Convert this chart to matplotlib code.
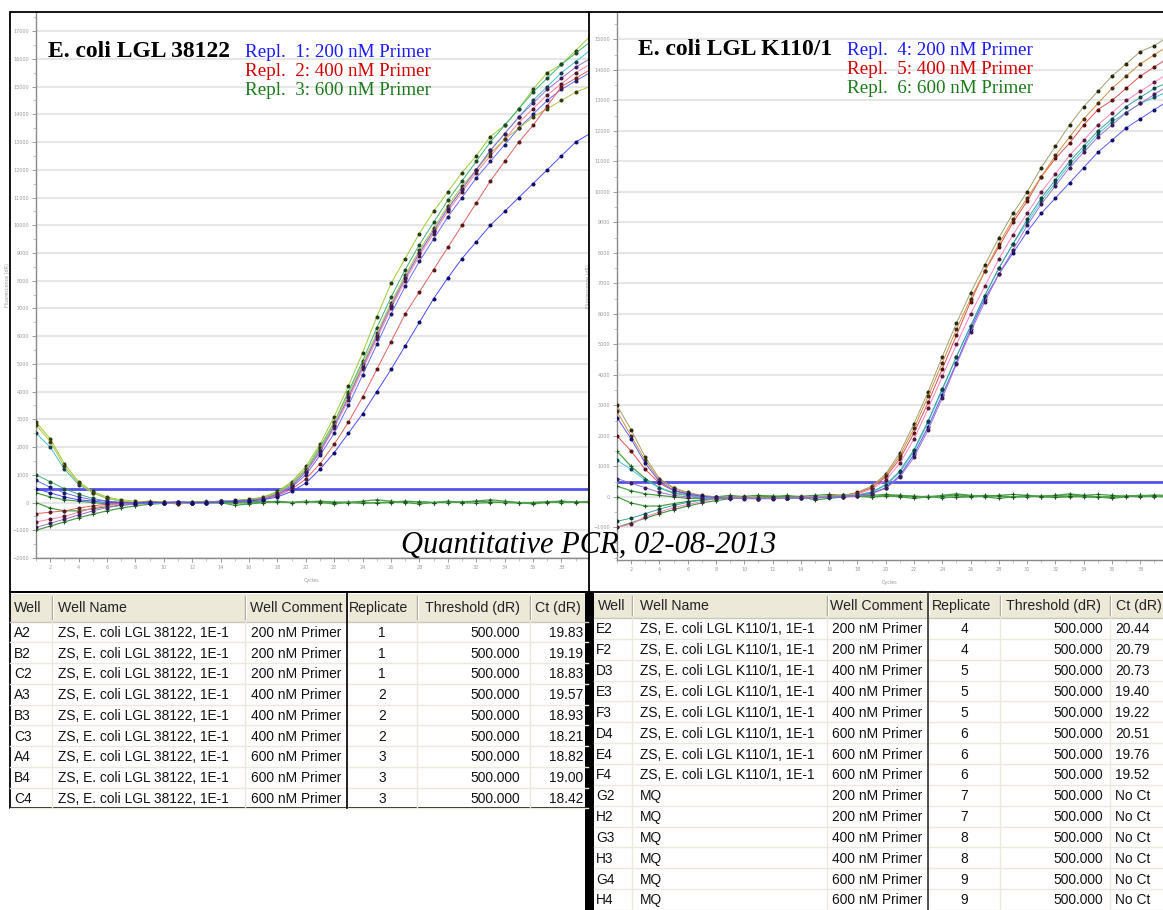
import numpy as np
import matplotlib.pyplot as plt
from matplotlib.patches import Rectangle
from matplotlib.ticker import MultipleLocator, FixedLocator

W, H = 1163, 910
cycles = np.arange(1, 41)

# Amplification curves, fluorescence dR in thousands, cycles 1..40
# E. coli LGL 38122 (left panel)
left_curves = [
    [2.9, 2.3, 1.4, 0.75, 0.4, 0.2, 0.1, 0.05, 0.0, 0.02, -0.05, 0.0, 0.03, 0.05, 0.08, 0.12,
     0.2, 0.4, 0.75, 1.3, 2.1, 3.1, 4.2, 5.4, 6.7, 7.9, 8.8, 9.7, 10.5, 11.2, 11.9, 12.5,
     13.2, 13.6, 14.2, 14.9, 15.5, 15.8, 16.3, 16.8],
    [1.0, 0.75, 0.5, 0.3, 0.15, 0.05, 0.0, -0.03, 0.0, 0.02, -0.02, 0.0, 0.02, 0.05, 0.07, 0.1,
     0.18, 0.35, 0.7, 1.2, 2.0, 2.9, 4.0, 5.1, 6.3, 7.4, 8.4, 9.3, 10.1, 10.9, 11.6, 12.3,
     13.0, 13.6, 14.2, 14.8, 15.3, 15.8, 16.2, 16.6],
    [2.5, 2.0, 1.2, 0.65, 0.35, 0.15, 0.05, 0.0, -0.02, 0.0, 0.0, 0.02, 0.0, 0.05, 0.06, 0.1,
     0.15, 0.32, 0.65, 1.15, 1.9, 2.8, 3.8, 4.9, 6.0, 7.1, 8.1, 9.0, 9.8, 10.6, 11.3, 12.0,
     12.7, 13.3, 13.9, 14.5, 15.0, 15.5, 15.9, 16.3],
    [-0.7, -0.6, -0.5, -0.35, -0.2, -0.1, -0.05, 0.0, 0.0, 0.02, 0.0, -0.02, 0.0, 0.03, 0.05, 0.08,
     0.14, 0.3, 0.6, 1.1, 1.8, 2.7, 3.7, 4.8, 5.9, 7.0, 8.0, 8.9, 9.7, 10.5, 11.2, 11.9,
     12.5, 13.1, 13.7, 14.2, 14.7, 15.1, 15.5, 15.8],
    [0.8, 0.55, 0.35, 0.2, 0.1, 0.05, 0.0, 0.0, -0.03, 0.0, 0.02, 0.0, 0.0, 0.04, 0.06, 0.08,
     0.13, 0.28, 0.55, 1.0, 1.7, 2.5, 3.5, 4.6, 5.7, 6.8, 7.8, 8.7, 9.5, 10.3, 11.0, 11.7,
     12.3, 12.9, 13.5, 14.0, 14.5, 14.9, 15.2, 15.5],
    [2.8, 2.2, 1.3, 0.7, 0.35, 0.15, 0.05, 0.0, 0.0, -0.02, 0.0, 0.0, 0.02, 0.04, 0.07, 0.1,
     0.17, 0.35, 0.68, 1.2, 1.95, 2.9, 3.9, 5.0, 6.1, 7.2, 8.2, 9.1, 9.9, 10.7, 11.4, 12.0,
     12.6, 13.1, 13.5, 13.9, 14.2, 14.5, 14.8, 15.0],
    [-0.4, -0.35, -0.3, -0.2, -0.12, -0.06, -0.02, 0.0, 0.02, 0.0, -0.02, 0.0, 0.02, 0.03, 0.05, 0.07,
     0.12, 0.25, 0.48, 0.85, 1.4, 2.1, 2.9, 3.8, 4.8, 5.8, 6.8, 7.6, 8.4, 9.2, 10.0, 10.8,
     11.6, 12.3, 13.0, 13.6, 14.3, 15.0, 15.3, 15.6],
    [-0.9, -0.75, -0.6, -0.45, -0.3, -0.18, -0.1, -0.05, 0.0, 0.0, 0.02, 0.0, 0.02, 0.03, 0.05, 0.08,
     0.14, 0.3, 0.6, 1.1, 1.85, 2.75, 3.8, 4.9, 6.0, 7.1, 8.1, 9.0, 9.8, 10.6, 11.3, 12.0,
     12.7, 13.3, 13.9, 14.4, 14.9, 15.3, 15.7, 16.0],
    [0.5, 0.35, 0.2, 0.1, 0.05, 0.0, 0.0, -0.02, 0.0, 0.0, 0.02, 0.0, 0.0, 0.02, 0.04, 0.06,
     0.1, 0.2, 0.4, 0.7, 1.2, 1.8, 2.5, 3.2, 4.0, 4.8, 5.65, 6.5, 7.35, 8.1, 8.8, 9.4,
     10.0, 10.5, 11.0, 11.5, 12.0, 12.5, 13.0, 13.3],
]
left_colors = ['#9acd32', '#3cb371', '#40c0d0', '#ff80a0', '#6a6aff', '#b8c040', '#e06060', '#a070d0', '#4a4aff']
left_marks = ['#2a3a10', '#1a4a2a', '#1a3a4a', '#4a1a2a', '#1a1a6a', '#3a3a10', '#5a1a1a', '#3a1a5a', '#10106a']

# E. coli LGL K110/1 (right panel)
right_curves = [
    [3.0, 2.2, 1.3, 0.6, 0.3, 0.15, 0.05, 0.0, -0.02, 0.0, -0.03, -0.05, -0.03, 0.0, 0.0, 0.02,
     0.05, 0.15, 0.35, 0.75, 1.45, 2.4, 3.45, 4.6, 5.7, 6.7, 7.6, 8.5, 9.3, 10.0, 10.8, 11.5,
     12.2, 12.8, 13.3, 13.8, 14.2, 14.6, 14.8, 15.1],
    [2.0, 1.5, 0.9, 0.45, 0.2, 0.08, 0.0, -0.03, -0.05, -0.03, -0.05, -0.05, -0.02, 0.0, 0.0, 0.02,
     0.04, 0.12, 0.3, 0.65, 1.25, 2.1, 3.1, 4.2, 5.3, 6.4, 7.4, 8.2, 9.0, 9.7, 10.5, 11.1,
     11.6, 12.2, 12.7, 13.0, 13.4, 13.8, 14.1, 14.4],
    [2.8, 2.0, 1.2, 0.55, 0.28, 0.12, 0.04, 0.0, -0.02, -0.02, -0.04, -0.05, -0.03, -0.02, 0.0, 0.02,
     0.04, 0.13, 0.32, 0.7, 1.35, 2.25, 3.3, 4.4, 5.5, 6.5, 7.4, 8.3, 9.1, 9.8, 10.5, 11.2,
     11.8, 12.4, 12.9, 13.4, 13.8, 14.2, 14.5, 14.8],
    [-1.0, -0.9, -0.65, -0.5, -0.35, -0.25, -0.15, -0.05, 0.0, -0.02, -0.04, -0.05, -0.03, -0.02, 0.0, 0.01,
     0.03, 0.1, 0.25, 0.55, 1.1, 1.9, 2.9, 3.95, 5.0, 6.0, 6.9, 7.8, 8.6, 9.3, 10.0, 10.6,
     11.2, 11.7, 12.2, 12.6, 13.0, 13.3, 13.6, 13.9],
    [1.2, 0.9, 0.55, 0.3, 0.15, 0.05, 0.0, -0.03, -0.05, -0.05, -0.06, -0.05, -0.04, -0.02, -0.02, 0.0,
     0.02, 0.06, 0.15, 0.38, 0.8, 1.5, 2.45, 3.5, 4.6, 5.6, 6.6, 7.5, 8.3, 9.0, 9.7, 10.3,
     10.9, 11.4, 11.9, 12.3, 12.6, 12.9, 13.1, 13.3],
    [2.6, 1.9, 1.1, 0.5, 0.22, 0.1, 0.02, -0.02, -0.05, -0.05, -0.06, -0.06, -0.05, -0.04, -0.03, -0.02,
     0.0, 0.04, 0.12, 0.3, 0.7, 1.4, 2.3, 3.35, 4.4, 5.5, 6.5, 7.3, 8.0, 8.7, 9.3, 9.8,
     10.3, 10.8, 11.3, 11.7, 12.1, 12.4, 12.7, 13.0],
    [-0.8, -0.7, -0.55, -0.4, -0.28, -0.18, -0.1, -0.05, -0.03, -0.04, -0.05, -0.05, -0.04, -0.03, -0.02, 0.0,
     0.02, 0.06, 0.16, 0.4, 0.85, 1.55, 2.5, 3.55, 4.6, 5.6, 6.6, 7.5, 8.3, 9.1, 9.8, 10.4,
     11.0, 11.5, 12.0, 12.4, 12.8, 13.1, 13.4, 13.6],
    [0.6, 0.45, 0.3, 0.15, 0.05, 0.0, -0.03, -0.05, -0.05, -0.06, -0.06, -0.05, -0.05, -0.04, -0.03, -0.02,
     0.0, 0.03, 0.1, 0.28, 0.65, 1.3, 2.2, 3.25, 4.35, 5.4, 6.4, 7.3, 8.1, 8.9, 9.6, 10.2,
     10.8, 11.3, 11.8, 12.2, 12.6, 12.9, 13.2, 13.5],
]
right_colors = ['#a0a070', '#e05050', '#d09040', '#ff80c0', '#40c8d8', '#5a5aff', '#40a0a0', '#a070d0']
right_marks = ['#2a2a10', '#5a1010', '#4a2a10', '#5a1a3a', '#104a5a', '#10106a', '#104040', '#3a1a5a']

# no template controls (MQ), flat
ntc_curves = [
    [0.35, 0.2, 0.1, 0.05, 0.0, -0.05, -0.05, 0.0, 0.05, 0.0, -0.05, 0.0, 0.05, 0.0, -0.1, -0.05,
     0.0, 0.05, 0.0, 0.05, 0.0, -0.05, 0.0, 0.05, 0.1, 0.05, 0.0, -0.05, 0.0, 0.05, 0.0, 0.05,
     0.1, 0.05, 0.0, -0.05, 0.0, 0.05, 0.0, 0.05],
    [-1.0, -0.85, -0.7, -0.55, -0.42, -0.3, -0.2, -0.12, -0.06, -0.03, -0.02, -0.03, -0.02, 0.0, -0.02, -0.01,
     0.0, 0.02, 0.0, 0.02, 0.03, 0.0, 0.02, 0.0, -0.02, 0.0, 0.02, 0.03, 0.0, 0.02, 0.0, -0.02,
     0.0, 0.02, 0.0, 0.0, 0.02, 0.0, 0.02, 0.0],
    [0.0, -0.2, -0.3, -0.3, -0.22, -0.15, -0.1, -0.05, -0.02, -0.03, 0.0, 0.02, 0.0, -0.02, 0.0, 0.03,
     0.05, 0.02, 0.0, 0.03, 0.05, 0.02, 0.0, -0.03, 0.0, 0.02, 0.05, 0.03, 0.0, 0.0, 0.03, 0.05,
     0.02, 0.0, -0.02, 0.0, 0.03, 0.05, 0.02, 0.0],
    [1.5, 1.0, 0.6, 0.3, 0.12, 0.05, 0.0, -0.02, 0.0, 0.02, 0.05, 0.03, 0.0, 0.02, 0.05, 0.08,
     0.05, 0.02, 0.05, 0.08, 0.05, 0.02, 0.0, 0.03, 0.06, 0.04, 0.02, 0.05, 0.08, 0.05, 0.02, 0.0,
     0.03, 0.05, 0.08, 0.05, 0.02, 0.04, 0.06, 0.05],
]
threshold = 500

# Tables
left_wells = ['A2', 'B2', 'C2', 'A3', 'B3', 'C3', 'A4', 'B4', 'C4']
left_names = ['ZS, E. coli LGL 38122, 1E-1'] * 9
left_comments = ['200 nM Primer'] * 3 + ['400 nM Primer'] * 3 + ['600 nM Primer'] * 3
left_repl = [1, 1, 1, 2, 2, 2, 3, 3, 3]
left_thr = ['500.000'] * 9
left_ct = ['19.83', '19.19', '18.83', '19.57', '18.93', '18.21', '18.82', '19.00', '18.42']

right_wells = ['E2', 'F2', 'D3', 'E3', 'F3', 'D4', 'E4', 'F4', 'G2', 'H2', 'G3', 'H3', 'G4', 'H4']
right_names = ['ZS, E. coli LGL K110/1, 1E-1'] * 8 + ['MQ'] * 6
right_comments = (['200 nM Primer'] * 2 + ['400 nM Primer'] * 3 + ['600 nM Primer'] * 3
                  + ['200 nM Primer'] * 2 + ['400 nM Primer'] * 2 + ['600 nM Primer'] * 2)
right_repl = [4, 4, 5, 5, 5, 6, 6, 6, 7, 7, 8, 8, 9, 9]
right_thr = ['500.000'] * 14
right_ct = ['20.44', '20.79', '20.73', '19.40', '19.22', '20.51', '19.76', '19.52'] + ['No Ct'] * 6

headers = ['Well', 'Well Name', 'Well Comment', 'Replicate', 'Threshold (dR)', 'Ct (dR)']

fig = plt.figure(figsize=(W / 100, H / 100), dpi=100)


def px_axes(l, t, r, b, **kw):
    return fig.add_axes([l / W, 1 - b / H, (r - l) / W, (b - t) / H], **kw)


def setup_plot(ax, xmax, ymin, ymax, ytick_min):
    ax.set_xlim(1, xmax)
    ax.set_ylim(ymin, ymax)
    ax.yaxis.set_major_locator(FixedLocator(np.arange(ytick_min, ymax, 1000)))
    ax.yaxis.set_minor_locator(MultipleLocator(500))
    ax.xaxis.set_major_locator(MultipleLocator(2))
    ax.xaxis.set_minor_locator(MultipleLocator(1))
    ax.grid(axis='y', which='major', color='#e6e6e6', lw=1.5)
    ax.set_axisbelow(True)
    for s in ['top', 'right']:
        ax.spines[s].set_visible(False)
    for s in ['left', 'bottom']:
        ax.spines[s].set_color('#8a8a8a')
        ax.spines[s].set_linewidth(1.0)
    ax.tick_params(which='major', labelsize=3.5, colors='#9a9a9a', length=3, width=0.7, pad=2)
    ax.tick_params(which='minor', colors='#b0b0b0', length=2, width=0.5)
    ax.set_ylabel('Fluorescence (dR)', fontsize=3.5, color='#9a9a9a', labelpad=2)
    ax.set_xlabel('Cycles', fontsize=3.5, color='#9a9a9a', labelpad=6)


def draw_curves(ax, curves, colors, marks, ntc):
    ax.axhline(threshold, color='#5252e6', lw=2.0, zorder=2)
    for vals in ntc:
        ax.plot(cycles, np.array(vals) * 1000, color='#4aa04a', lw=0.9, marker='+', ms=3.5,
                mec='#1e5a1e', mew=0.8, zorder=3)
    for vals, c, m in zip(curves, colors, marks):
        ax.plot(cycles, np.array(vals) * 1000, color=c, lw=0.7, marker='o', ms=1.9,
                mfc=m, mec=m, zorder=4)


ax_l = px_axes(36, 12, 588, 558)
setup_plot(ax_l, 1 + 552 / 14.2, -2000, 17690, -2000)
draw_curves(ax_l, left_curves, left_colors, left_marks, ntc_curves[:3])

ax_r = px_axes(617, 12, 1163, 560)
setup_plot(ax_r, 1 + 547 / 14.17, -2070, 15900, -1000)
draw_curves(ax_r, right_curves, right_colors, right_marks, ntc_curves)

# canvas for frames and tables, in pixel units
cv = fig.add_axes([0, 0, 1, 1], zorder=5)
cv.set_xlim(0, W)
cv.set_ylim(H, 0)
cv.axis('off')
cv.patch.set_visible(False)

cv.add_patch(Rectangle((10, 12), 579, 580, fill=False, ec='black', lw=1.3))
cv.plot([589, W], [12, 12], color='black', lw=1.3)

serif = 'Liberation Serif'
fig.text(48 / W, 1 - 57 / H, 'E. coli LGL 38122', fontsize=17, fontweight='bold', family=serif,
         va='baseline')
fig.text(638 / W, 1 - 55 / H, 'E. coli LGL K110/1', fontsize=17, fontweight='bold', family=serif,
         va='baseline')
legend_colors = ['#1a1aff', '#d00000', '#1a7a1a']
legend_left = ['Repl.  1: 200 nM Primer', 'Repl.  2: 400 nM Primer', 'Repl.  3: 600 nM Primer']
legend_right = ['Repl.  4: 200 nM Primer', 'Repl.  5: 400 nM Primer', 'Repl.  6: 600 nM Primer']
for i, (tl, tr, c) in enumerate(zip(legend_left, legend_right, legend_colors)):
    fig.text(245 / W, 1 - (57 + 19 * i) / H, tl, fontsize=13.7, color=c, family=serif, va='baseline')
    fig.text(847 / W, 1 - (55 + 19 * i) / H, tr, fontsize=13.7, color=c, family=serif, va='baseline')

fig.text(589 / W, 1 - 553 / H, 'Quantitative PCR, 02-08-2013', fontsize=22, style='italic',
         family=serif, ha='center', va='baseline', zorder=10)

sans = 'Liberation Sans'


def draw_table(edges, top, head_b, row_h, cols, text_x, aligns, head_x):
    x0, x1 = edges[0], edges[-1]
    cv.add_patch(Rectangle((x0, top + 2), x1 - x0, head_b - top - 2, fc='#ece9d8', ec='none'))
    cv.plot([x0, x1], [head_b, head_b], color='#cbc7b8', lw=1)
    for e in edges[1:-1]:
        cv.plot([e, e], [top + 4, head_b - 3], color='#aca899', lw=1)
        cv.plot([e + 1, e + 1], [top + 4, head_b - 3], color='white', lw=0.8)
    for hx, h in zip(head_x, headers):
        cv.text(hx, (top + head_b) / 2 + 1, h, fontsize=10.2, family=sans, color='#222',
                ha='left', va='center')
    n = len(cols[0])
    for r in range(n):
        yb = head_b + (r + 1) * row_h
        cv.plot([x0, x1], [yb, yb], color='#ebe8df', lw=1)
        yc = head_b + (r + 0.5) * row_h
        for tx, al, col in zip(text_x, aligns, cols):
            cv.text(tx, yc + 1, str(col[r]), fontsize=9.9, family=sans, color='#111',
                    ha=al, va='center')
    for e in edges[1:-1]:
        cv.plot([e, e], [head_b, head_b + n * row_h], color='#ebe8df', lw=1)
    return head_b + n * row_h


# left table
l_edges = [10, 52, 245, 347, 417, 530, 588]
l_bot = draw_table(l_edges, 592, 621.5, 20.75,
                   [left_wells, left_names, left_comments, left_repl, left_thr, left_ct],
                   [14, 58, 251, 382, 520, 583], ['left', 'left', 'left', 'center', 'right', 'right'],
                   [14, 58, 250, 349, 425, 535])
cv.add_patch(Rectangle((10, 592), 578, l_bot - 592, fill=False, ec='black', lw=1.3))
cv.plot([347, 347], [592, l_bot], color='black', lw=1.2)

# right table
r_edges = [594, 632, 827, 928, 1000, 1110, 1180]
r_bot = draw_table(r_edges, 592, 618, 20.85,
                   [right_wells, right_names, right_comments, right_repl, right_thr, right_ct],
                   [596, 640, 832, 964, 1103, 1115], ['left', 'left', 'left', 'center', 'right', 'left'],
                   [598, 640, 830, 932, 1006, 1116])
cv.plot([585, W], [592, 592], color='black', lw=1.3)
cv.plot([928, 928], [592, H], color='#333', lw=1.2)
cv.add_patch(Rectangle((585, 592), 9, H - 592, fc='black', ec='none'))

fig.savefig('out.png', dpi=100)
